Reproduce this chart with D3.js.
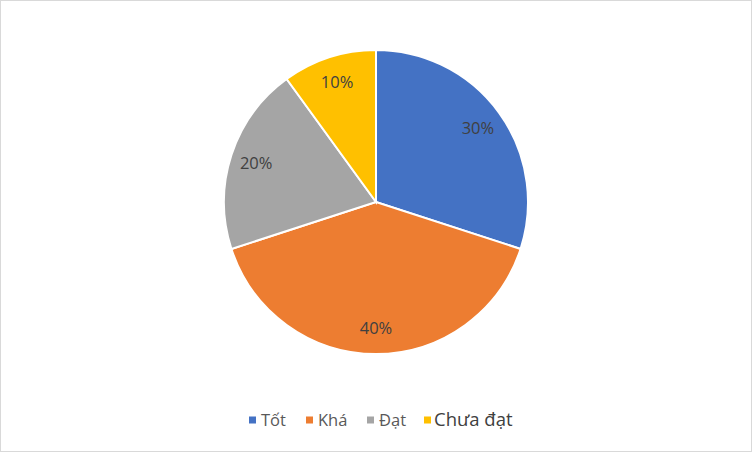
<!DOCTYPE html>
<html>
<head>
<meta charset="utf-8">
<script src="https://cdn.jsdelivr.net/npm/d3@7"></script>
<style>
	body { margin: 0; background: #fff; }
	svg { display: block; font-family: "Open Sans", "Liberation Sans", sans-serif; }
</style>
</head>
<body>
<div id="chart"></div>
<script>
const categories = ['Tốt', 'Khá', 'Đạt', 'Chưa đạt']
const values = [30, 40, 20, 10]
const colors = ['#4472c4', '#ed7d31', '#a5a5a5', '#ffc000']

const width = 752, height = 452
const cx = 376, cy = 202, radius = 152

const svg = d3.select('#chart').append('svg')
	.attr('width', width).attr('height', height)

svg.append('rect')
	.attr('x', 0.5).attr('y', 0.5)
	.attr('width', width - 1).attr('height', height - 1)
	.attr('fill', '#fff').attr('stroke', '#d9d9d9')

const pie = d3.pie().sort(null).value(d => d)
const arcs = pie(values)
const arc = d3.arc().innerRadius(0).outerRadius(radius)
const labelArc = d3.arc().innerRadius(126).outerRadius(126)
const total = d3.sum(values)

const g = svg.append('g').attr('transform', `translate(${cx},${cy})`)

g.selectAll('path').data(arcs).join('path')
	.attr('d', arc)
	.attr('fill', (d, i) => colors[i])
	.attr('stroke', '#fff')
	.attr('stroke-width', 2)

g.selectAll('text').data(arcs).join('text')
	.attr('transform', d => `translate(${labelArc.centroid(d)})`)
	.attr('text-anchor', 'middle')
	.attr('dy', '0.35em')
	.attr('fill', '#404040')
	.style('font-size', '16.5px')
	.text(d => `${Math.round(d.data / total * 100)}%`)

// legend
const legendX = [249, 306, 367, 424]
const legend = svg.append('g').selectAll('g').data(categories).join('g')
	.attr('transform', (d, i) => `translate(${legendX[i]},420)`)

legend.append('rect')
	.attr('x', 0).attr('y', -3.5)
	.attr('width', 7).attr('height', 7)
	.attr('fill', (d, i) => colors[i])

legend.append('text')
	.attr('x', (d, i) => i === 3 ? 10 : 12)
	.attr('dy', '0.35em')
	.attr('fill', (d, i) => i === 3 ? '#404040' : '#595959')
	.style('font-size', (d, i) => i === 3 ? '18.5px' : '16.5px')
	.text(d => d)
</script>
</body>
</html>
